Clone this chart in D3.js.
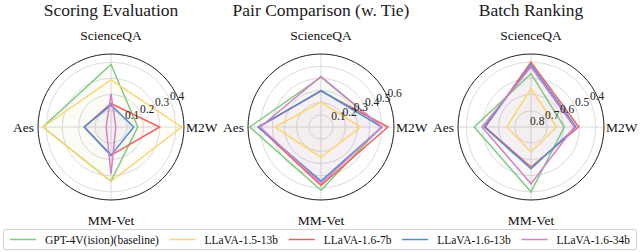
<!DOCTYPE html>
<html><head><meta charset="utf-8">
<script src="https://cdn.jsdelivr.net/npm/d3@7"></script>
<style>html,body{margin:0;padding:0;background:#fff;}svg{display:block;}</style>
</head><body>
<svg id="chart" width="640" height="252"></svg>
<script>
// ---- data ----
const axisNames = ["ScienceQA", "M2W", "MM-Vet", "Aes"];
const seriesNames = ["GPT-4V(ision)(baseline)", "LLaVA-1.5-13b", "LLaVA-1.6-7b", "LLaVA-1.6-13b", "LLaVA-1.6-34b"];
const seriesColors = ["#7ecb80", "#ffd56e", "#f2615e", "#4a8fd8", "#d77fcb"];
const panelTitles = ["Scoring Evaluation", "Pair Comparison (w. Tie)", "Batch Ranking"];
// values per series: [ScienceQA, M2W, MM-Vet, Aes]
const scoringValues = [
  [0.385, 0.165, 0.335, 0.42],
  [0.29, 0.435, 0.335, 0.42],
  [0.145, 0.30, 0.175, 0.165],
  [0.135, 0.14, 0.175, 0.165],
  [0.205, 0.03, 0.29, 0.03]
];
const pairValues = [
  [0.41, 0.495, 0.52, 0.585],
  [0.205, 0.325, 0.25, 0.38],
  [0.295, 0.55, 0.48, 0.515],
  [0.30, 0.50, 0.445, 0.515],
  [0.415, 0.50, 0.465, 0.50]
];
const batchValues = [
  [0.471, 0.595, 0.40, 0.45],
  [0.564, 0.642, 0.646, 0.65],
  [0.40, 0.506, 0.553, 0.518],
  [0.416, 0.523, 0.543, 0.512],
  [0.43, 0.533, 0.45, 0.498]
];
const scoringTicks = [0.1, 0.2, 0.3, 0.4];
const pairTicks = [0.1, 0.2, 0.3, 0.4, 0.5, 0.6];
const batchTicks = [0.8, 0.7, 0.6, 0.5, 0.4];
const scoringDomain = [0, 0.45];
const pairDomain = [0, 0.6];
const batchDomain = [0.8, 0.35];

// ---- drawing ----
const svg = d3.select("#chart");
const font = "'Liberation Serif', 'DejaVu Serif', serif";
const R = 73;
const panels = [
  {cx: 111, values: scoringValues, ticks: scoringTicks, domain: scoringDomain, fmt: d3.format(".1f")},
  {cx: 321, values: pairValues, ticks: pairTicks, domain: pairDomain, fmt: d3.format(".1f")},
  {cx: 531, values: batchValues, ticks: batchTicks, domain: batchDomain, fmt: d3.format(".1f")}
];
const cy = 127;
const angleScale = d3.scalePoint().domain(axisNames).range([Math.PI/2, -Math.PI]);

panels.forEach((p, pi) => {
  const g = svg.append("g").attr("transform", `translate(${p.cx},${cy})`);
  const r = d3.scaleLinear().domain(p.domain).range([0, R]);
  const pt = (name, v) => {
    const a = angleScale(name);
    return [r(v) * Math.cos(a), -r(v) * Math.sin(a)];
  };
  svg.append("text").attr("x", p.cx).attr("y", 16).attr("text-anchor", "middle")
    .attr("font-family", font).attr("font-size", 17.5).attr("fill", "#1a1a1a").text(panelTitles[pi]);
  g.selectAll("circle.grid").data(p.ticks.filter(t => r(t) > 0.5 && r(t) < R - 0.5)).join("circle")
    .attr("class", "grid").attr("r", d => r(d)).attr("fill", "none")
    .attr("stroke", "#d6d6d6").attr("stroke-width", 0.9);
  g.selectAll("line.spoke").data(axisNames).join("line")
    .attr("x1", 0).attr("y1", 0)
    .attr("x2", d => R * Math.cos(angleScale(d))).attr("y2", d => -R * Math.sin(angleScale(d)))
    .attr("stroke", "#d6d6d6").attr("stroke-width", 0.9);
  const line = d3.line().curve(d3.curveLinearClosed);
  p.values.forEach((vals, si) => {
    g.append("path").attr("d", line(axisNames.map((n, k) => pt(n, vals[k]))))
      .attr("fill", seriesColors[si]).attr("fill-opacity", 0.03).attr("stroke", "none");
  });
  p.values.forEach((vals, si) => {
    g.append("path").attr("d", line(axisNames.map((n, k) => pt(n, vals[k]))))
      .attr("fill", "none").attr("stroke", seriesColors[si]).attr("stroke-width", 1.5)
      .attr("stroke-linejoin", "miter");
  });
  g.append("circle").attr("r", R).attr("fill", "none").attr("stroke", "#222").attr("stroke-width", 1);
  const la = 22.5 * Math.PI / 180;
  g.selectAll("text.tick").data(p.ticks).join("text")
    .attr("x", d => r(d) * Math.cos(la) - 1)
    .attr("y", d => -r(d) * Math.sin(la) - 2)
    .attr("font-family", font).attr("font-size", 11.5).attr("fill", "#222")
    .text(d => p.fmt(d));
  const lab = (txt, x, y, anchor) => g.append("text").attr("x", x).attr("y", y)
    .attr("text-anchor", anchor).attr("font-family", font).attr("font-size", 13.5)
    .attr("fill", "#111").text(txt);
  lab(axisNames[0], 0, -87, "middle");
  lab(axisNames[1], 75, 5, "start");
  lab(axisNames[2], 0, 98, "middle");
  lab(axisNames[3], -77, 5, "end");
});

// legend
const lg = svg.append("g");
const lx0 = 3, lx1 = 637, ly0 = 229, ly1 = 250;
lg.append("rect").attr("x", lx0 + 0.5).attr("y", ly0 + 0.5).attr("width", lx1 - lx0 - 1).attr("height", ly1 - ly0 - 1)
  .attr("rx", 2).attr("fill", "#fff").attr("stroke", "#d0d0d0").attr("stroke-width", 1);
const handle = 26, hpad = 9;
const items = lg.selectAll("g.item").data(seriesNames).join("g").attr("class", "item");
items.append("text").attr("font-family", font).attr("font-size", 11.5).attr("fill", "#111")
  .attr("y", 243.5).text(d => d);
const widths = [];
items.select("text").each(function () { widths.push(this.getComputedTextLength()); });
const totalItems = d3.sum(widths) + seriesNames.length * (handle + hpad);
const inner = (lx1 - lx0) - 2 * 7;
const gap = (inner - totalItems) / (seriesNames.length - 1);
let cx = lx0 + 7;
items.each(function (d, i) {
  const it = d3.select(this);
  it.append("line").attr("x1", cx).attr("x2", cx + handle).attr("y1", 239.5).attr("y2", 239.5)
    .attr("stroke", seriesColors[i]).attr("stroke-width", 1.5);
  it.select("text").attr("x", cx + handle + hpad);
  cx += handle + hpad + widths[i] + gap;
});
</script>
</body></html>
